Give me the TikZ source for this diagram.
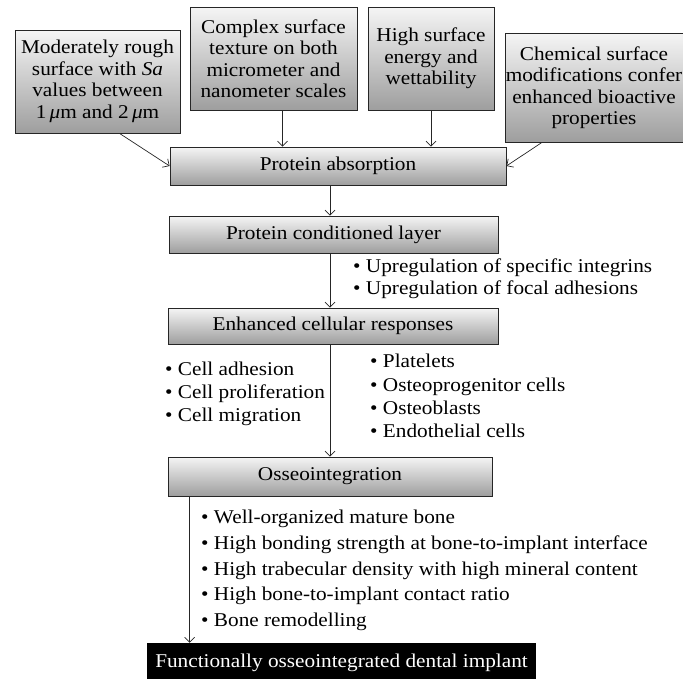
\documentclass[tikz,border=0pt]{standalone}
\usepackage{fontspec}
\setmainfont{Liberation Serif}[FakeStretch=1.09]
\usetikzlibrary{arrows.meta,positioning,calc}
\colorlet{grigscuro}{black!85}
\newcommand{\voce}{\textbullet\ }
\tikzset{%
  casella/.style={%
    draw=grigscuro, line width=0.8pt,
    top color=black!4, bottom color=black!38,
    align=center, inner sep=0pt,
    font=\fontsize{19.5}{21.5}\selectfont
  },
  collega/.style={-{Straight Barb[length=5pt,width=10pt]},line width=0.7pt,draw=grigscuro},
  elenco/.style={%
    align=left, inner sep=0pt, anchor=north west,
    font=\fontsize{19.5}{22}\selectfont
  }
}

\begin{document}
\begin{tikzpicture}[x=1pt,y=-1pt]
\useasboundingbox (0,0) rectangle (683,678);
\coordinate (asse) at (330,0);

% top row
\node[casella, minimum width=165pt, minimum height=103pt] (rugosa) at (97.5,81.5)
  {Moderately rough\\surface with \textit{Sa}\\values between\\1\,\textit{μ}m and 2\,\textit{μ}m};
\node[casella, minimum width=167pt, minimum height=103pt] (complessa) at (273.5,58.5)
  {Complex surface\\texture on both\\micrometer and\\nanometer scales};
\node[casella, minimum width=126pt, minimum height=103pt] (energia) at (431,58.5)
  {High surface\\energy and\\wettability};
\node[casella, minimum width=178pt, minimum height=109pt] (chimica) at (594,87.5)
  {Chemical surface\\modifications confer\\enhanced bioactive\\properties};

% main column
\node[casella, minimum width=336pt, minimum height=38pt] (assorb) at (338,166) {Protein absorption};
\node[casella, minimum width=329pt, minimum height=37pt] (strato) at (333.5,234.5) {Protein conditioned layer};
\node[casella, minimum width=330pt, minimum height=36pt] (risposte) at (333,326) {Enhanced cellular responses};
\node[casella, minimum width=324pt, minimum height=39pt] (osseo) at (330,476.5) {Osseointegration};
\node[fill=black, text=white, inner sep=0pt, minimum width=389pt, minimum height=40pt,
  font=\fontsize{19.5}{21.5}\selectfont] (finale) at (341.5,663) {Functionally osseointegrated dental implant};

% lists
\node[elenco] (integrine) at (353,259) {\voce Upregulation of specific integrins\\\voce Upregulation of focal adhesions};
\node[elenco, font=\fontsize{19.5}{23}\selectfont] (attivita) at (165,362) {\voce Cell adhesion\\\voce Cell proliferation\\\voce Cell migration};
\node[elenco, font=\fontsize{19.5}{23.3}\selectfont] (cellule) at (370,354) {\voce Platelets\\\voce Osteoprogenitor cells\\\voce Osteoblasts\\\voce Endothelial cells};
\node[elenco, font=\fontsize{19.5}{25.75}\selectfont] (osso) at (201,510) {\voce Well-organized mature bone\\\voce High bonding strength at bone-to-implant interface\\\voce High trabecular density with high mineral content\\\voce High bone-to-implant contact ratio\\\voce Bone remodelling};

% connectors
\draw[collega] ($(rugosa.south)+(22,0)$) -- (assorb.west);
\draw[collega] ($(complessa.south)+(9,0)$) coordinate (c1) -- (c1 |- assorb.north);
\draw[collega] (energia.south) -- (energia.south |- assorb.north);
\draw[collega] ($(chimica.south)+(-52,0)$) -- (assorb.east);
\draw[collega] (asse |- assorb.south) -- (asse |- strato.north);
\draw[collega] (asse |- strato.south) -- (asse |- risposte.north);
\draw[collega] (asse |- risposte.south) -- (asse |- osseo.north);
\coordinate (ramo) at ($(osseo.south west)+(22,0)$);
\draw[collega] (ramo) -- (ramo |- finale.north);
\end{tikzpicture}
\end{document}
